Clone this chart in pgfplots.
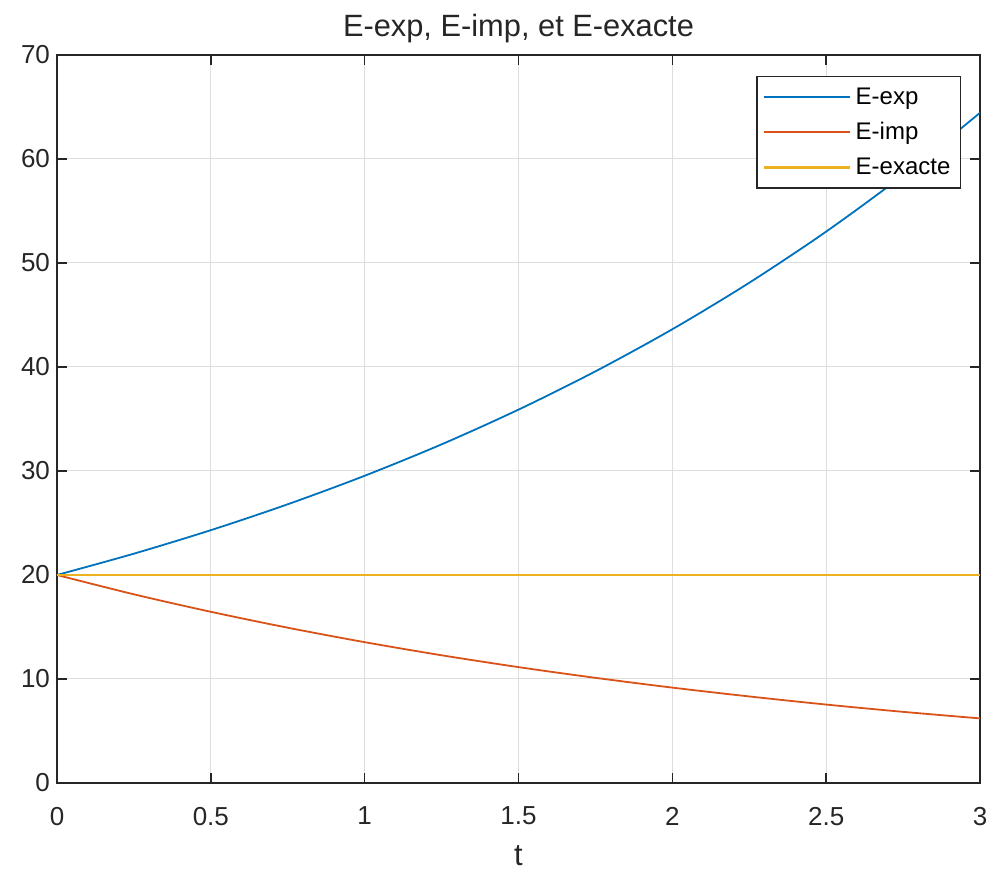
\documentclass[border=0pt]{standalone}
\usepackage{pgfplots}
\pgfplotsset{compat=1.18}
\usepackage{fontspec}
\setmainfont{Liberation Sans}
\definecolor{mblue}{rgb}{0,0.447,0.741}
\definecolor{morange}{rgb}{0.85,0.325,0.098}
\definecolor{myellow}{rgb}{0.929,0.694,0.125}
\definecolor{maxis}{rgb}{0.15,0.15,0.15}
\begin{document}
\begin{tikzpicture}
\begin{axis}[
  scale only axis, width=461.5pt, height=364pt,
  xmin=0, xmax=3, ymin=0, ymax=70,
  xtick={0,0.5,1,1.5,2,2.5,3}, ytick={0,10,20,30,40,50,60,70},
  grid=major, grid style={draw=black!13, line width=0.5pt},
  axis line style={draw=maxis, line width=0.8pt},
  tick style={draw=maxis, line width=0.8pt},
  tick align=inside, major tick length=5pt,
  /pgf/number format/assume math mode=true,
  ticklabel style={font=\fontsize{13}{16}\selectfont, text=maxis},
  xticklabel style={yshift=-8.5pt},
  title={E-exp, E-imp, et E-exacte},
  title style={font=\fontsize{15.4}{18}\selectfont, text=maxis, at={(0.5,1)}, anchor=center, yshift=7pt},
  xlabel={t},
  xlabel style={font=\fontsize{15.4}{18}\selectfont, text=maxis, at={(0.5,0)}, anchor=center, yshift=-36.5pt},
  legend style={at={(1,1)}, anchor=north east, xshift=-9.5pt, yshift=-10.5pt,
    font=\fontsize{12}{14}\selectfont, draw=maxis, line width=0.6pt,
    cells={anchor=west}, row sep=3.5pt, inner xsep=3pt, inner ysep=3.5pt},
  legend image code/.code={\draw[#1] plot coordinates {(0pt,0pt) (43pt,0pt)};},
]
\addplot[mblue, line width=0.9pt, smooth] coordinates {
(0,20) (0.25,22.05) (0.5,24.31) (0.75,26.80) (1,29.54) (1.25,32.56) (1.5,35.90)
(1.75,39.58) (2,43.63) (2.25,48.10) (2.5,53.02) (2.75,58.45) (3,64.44)};
\addlegendentry{E-exp}
\addplot[morange, line width=0.9pt, smooth] coordinates {
(0,20) (0.25,18.14) (0.5,16.46) (0.75,14.93) (1,13.54) (1.25,12.28) (1.5,11.14)
(1.75,10.11) (2,9.17) (2.25,8.32) (2.5,7.54) (2.75,6.84) (3,6.21)};
\addlegendentry{E-imp}
\addplot[myellow, line width=1.3pt] coordinates {(0,20) (3,20)};
\addlegendentry{E-exacte}
\end{axis}
\pgfresetboundingbox
\path ([shift={(-28.5pt,-44.5pt)}]current axis.south west) rectangle ([shift={(7.5pt,27.5pt)}]current axis.north east);
\end{tikzpicture}
\end{document}
